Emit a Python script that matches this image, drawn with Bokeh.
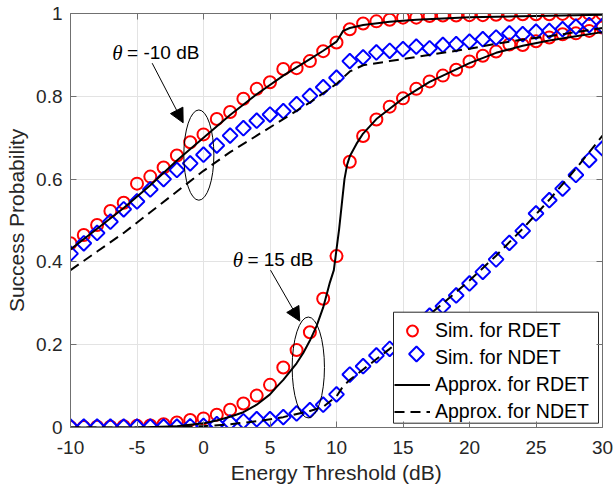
import math
from bokeh.plotting import figure
from bokeh.models import (Range1d, FixedTicker, CustomJSTickFormatter, LinearAxis,
                          Legend, LegendItem, Arrow, NormalHead)
from bokeh.core.properties import value
from bokeh.embed import file_html
from bokeh.resources import INLINE

# ---------------- data ----------------
x_sim = list(range(-10, 31))

# theta = -10 dB
sim_rdet_m10 = [0.445, 0.465, 0.489, 0.523, 0.543, 0.589, 0.606, 0.628, 0.657, 0.689,
                0.708, 0.745, 0.762, 0.794, 0.818, 0.834, 0.866, 0.868, 0.885, 0.909,
                0.930, 0.962, 0.976, 0.981, 0.985, 0.990, 0.990, 0.994, 0.995, 0.995,
                0.996, 0.996, 0.997, 0.997, 0.998, 0.998, 0.998, 0.999, 0.999, 0.999, 0.999]
sim_ndet_m10 = [0.420, 0.445, 0.470, 0.497, 0.527, 0.546, 0.575, 0.600, 0.622, 0.638,
                0.659, 0.681, 0.705, 0.723, 0.741, 0.756, 0.764, 0.781, 0.801, 0.822,
                0.845, 0.885, 0.894, 0.906, 0.910, 0.914, 0.920, 0.916, 0.924, 0.926,
                0.932, 0.938, 0.942, 0.952, 0.950, 0.956, 0.958, 0.962, 0.968, 0.972, 0.970]

# theta = 15 dB
sim_rdet_15 = [0.001, 0.001, 0.002, 0.002, 0.003, 0.004, 0.005, 0.008, 0.012, 0.018,
               0.022, 0.031, 0.043, 0.058, 0.077, 0.103, 0.145, 0.187, 0.230, 0.311,
               0.414, 0.642, 0.704, 0.744, 0.775, 0.795, 0.818, 0.836, 0.850, 0.864,
               0.884, 0.898, 0.908, 0.925, 0.924, 0.933, 0.942, 0.950, 0.952, 0.958, 0.966]
sim_ndet_15 = [0.002, 0.002, 0.002, 0.002, 0.002, 0.002, 0.002, 0.002, 0.002, 0.003,
               0.004, 0.008, 0.012, 0.015, 0.020, 0.020, 0.025, 0.034, 0.042, 0.055,
               0.080, 0.128, 0.148, 0.174, 0.190, 0.215, 0.240, 0.270, 0.293, 0.319,
               0.348, 0.376, 0.406, 0.446, 0.475, 0.517, 0.549, 0.577, 0.610, 0.646, 0.674]

# approximations
x_apx_rdet_m10 = [-10, -8, -6, -4, -2, 0, 2, 4, 6, 8, 9, 10, 10.5, 11, 12, 14, 16, 18, 20, 25, 30]
y_apx_rdet_m10 = [0.43, 0.48, 0.53, 0.585, 0.645, 0.70, 0.755, 0.805, 0.85, 0.89, 0.91, 0.932,
                  0.958, 0.965, 0.972, 0.98, 0.985, 0.988, 0.991, 0.994, 0.997]
x_apx_ndet_m10 = [-10, -8, -6, -4, -2, 0, 2, 4, 6, 8, 10, 11, 12, 14, 16, 18, 20, 22, 24, 26, 28, 30]
y_apx_ndet_m10 = [0.38, 0.425, 0.47, 0.52, 0.57, 0.62, 0.665, 0.705, 0.745, 0.785, 0.83, 0.86,
                  0.875, 0.885, 0.895, 0.905, 0.915, 0.927, 0.937, 0.945, 0.955, 0.965]
x_apx_rdet_15 = [-10, -5, -2, 0, 1, 2, 3, 4, 5, 5.5, 6, 7, 7.5, 8, 8.5, 9, 9.5, 9.8, 10, 10.2,
                 10.4, 10.6, 10.8, 11, 11.5, 12, 13, 14, 15, 16, 17, 18, 19, 20, 22, 24, 26, 28, 30]
y_apx_rdet_15 = [0.0, 0.0, 0.003, 0.01, 0.017, 0.026, 0.037, 0.055, 0.08, 0.098, 0.115, 0.155,
                 0.18, 0.21, 0.245, 0.29, 0.35, 0.38, 0.43, 0.48, 0.54, 0.60, 0.635, 0.655,
                 0.685, 0.71, 0.745, 0.77, 0.795, 0.815, 0.835, 0.85, 0.865, 0.88, 0.905,
                 0.922, 0.935, 0.945, 0.955]
x_apx_ndet_15 = [-10, -5, 0, 2, 4, 6, 8, 9, 10, 10.5, 11, 12, 14, 16, 18, 20, 22, 24, 26, 28, 30]
y_apx_ndet_15 = [0.0, 0.0, 0.003, 0.008, 0.015, 0.025, 0.04, 0.05, 0.075, 0.10, 0.115, 0.14,
                 0.19, 0.245, 0.30, 0.355, 0.415, 0.48, 0.55, 0.625, 0.705]

x_ticks = [-10, -5, 0, 5, 10, 15, 20, 25, 30]
y_ticks = [0, 0.2, 0.4, 0.6, 0.8, 1]

x_label = "Energy Threshold (dB)"
y_label = "Success Probability"
legend_labels = ["Sim. for RDET", "Sim. for NDET", "Approx. for RDET", "Approx. for NDET"]

# annotations (data coordinates)
ann_theta_x = [-6.86, 2.20]
ann_rest_x = [-5.75, 3.30]
ann_y = [0.905, 0.405]
ann_rest_text = ["= -10 dB", "= 15 dB"]
ell_x = [-0.35, 7.88]
ell_y = [0.658, 0.145]
ell_w = [2.26, 2.43]
ell_h = [0.218, 0.244]
arrow_start = [(-3.86, 0.880), (5.04, 0.380)]
arrow_end = [(-1.53, 0.736), (7.24, 0.257)]

FONT = "Liberation Sans"
TICK_COLOR = "#262626"
AXIS_COLOR = "#707070"

# ---------------- layout constants ----------------
W, H = 615, 487
B_LEFT, B_RIGHT, B_TOP, B_BOTTOM = 70, 13, 13, 60
FRAME_W = W - B_LEFT - B_RIGHT
FRAME_H = H - B_TOP - B_BOTTOM
X0, X1, Y0, Y1 = -10, 30, 0, 1

# legend geometry (pixels, relative to frame bottom-left, y upwards)
LEG_X, LEG_Y = 324, 2
LEG_PAD, LEG_ROW, LEG_GW = 4, 27, 36
BOX_L, BOX_R, BOX_B, BOX_T = 323, 528, 4.3, 115.3


def px2x(px):
    return X0 + px * (X1 - X0) / FRAME_W


def px2y(py):
    return Y0 + py * (Y1 - Y0) / FRAME_H


# ---------------- figure ----------------
p = figure(width=W, height=H, output_backend="svg", toolbar_location=None,
           x_range=Range1d(X0, X1), y_range=Range1d(Y0, Y1),
           min_border_left=B_LEFT, min_border_right=B_RIGHT,
           min_border_top=B_TOP, min_border_bottom=B_BOTTOM)
p.outline_line_color = None
p.background_fill_color = "white"
p.border_fill_color = "white"

xt = FixedTicker(ticks=x_ticks)
yt = FixedTicker(ticks=y_ticks)
fmt = CustomJSTickFormatter(code="return tick.toString();")
empty = CustomJSTickFormatter(code="return '';")

for ax, tk in ((p.xaxis[0], xt), (p.yaxis[0], yt)):
    ax.ticker = tk
    ax.formatter = fmt
    ax.major_tick_in = 6
    ax.major_tick_out = 0
    ax.minor_tick_line_color = None
    ax.axis_line_color = AXIS_COLOR
    ax.major_tick_line_color = AXIS_COLOR
    ax.major_label_text_font = FONT
    ax.major_label_text_font_size = "19px"
    ax.major_label_text_color = TICK_COLOR
    ax.axis_label_text_font = FONT
    ax.axis_label_text_font_size = "21px"
    ax.axis_label_text_font_style = "normal"
    ax.axis_label_text_color = TICK_COLOR

p.xaxis[0].axis_label = x_label
p.xaxis[0].major_label_standoff = 13
p.xaxis[0].axis_label_standoff = 4
p.yaxis[0].axis_label = y_label
p.yaxis[0].major_label_standoff = 8
p.yaxis[0].axis_label_standoff = 5

for side, tk in (("right", yt), ("above", xt)):
    ax = LinearAxis(ticker=tk, formatter=empty, major_tick_in=6, major_tick_out=0,
                    minor_tick_line_color=None, axis_line_color=AXIS_COLOR,
                    major_tick_line_color=AXIS_COLOR, major_label_standoff=0,
                    major_label_text_font_size="1px")
    p.add_layout(ax, side)

p.xgrid.ticker = xt
p.ygrid.ticker = yt
p.xgrid.grid_line_color = "#e3e3e3"
p.ygrid.grid_line_color = "#e3e3e3"

circ = dict(marker="circle", size=12, fill_color=None, line_color="#ff0000", line_width=2)
diam = dict(marker="square", angle=math.pi / 4, size=10.5, fill_color=None,
            line_color="#0000ff", line_width=2)

# markers
c1 = p.scatter(x_sim, sim_rdet_m10, **circ)
p.scatter(x_sim, sim_rdet_15, **circ)
p.scatter(x_sim, sim_ndet_m10, **diam)
p.scatter(x_sim, sim_ndet_15, **diam)

# lines
l1 = p.line(x_apx_rdet_m10, y_apx_rdet_m10, line_color="black", line_width=2)
p.line(x_apx_rdet_15, y_apx_rdet_15, line_color="black", line_width=2)
l2 = p.line(x_apx_ndet_m10, y_apx_ndet_m10, line_color="black", line_width=2, line_dash="10 6")
p.line(x_apx_ndet_15, y_apx_ndet_15, line_color="black", line_width=2, line_dash="10 6")

# annotations
p.ellipse(x=ell_x, y=ell_y, width=ell_w, height=ell_h, fill_color=None,
          line_color="black", line_width=1)
for (xs, ys), (xe, ye) in zip(arrow_start, arrow_end):
    p.add_layout(Arrow(end=NormalHead(size=14, fill_color="black", line_color="black"),
                       x_start=xs, y_start=ys, x_end=xe, y_end=ye,
                       line_color="black", line_width=1))
p.text(x=ann_theta_x, y=ann_y, text=["θ", "θ"], text_font=value("Liberation Serif"),
       text_font_style="italic", text_font_size=value("21px"), text_baseline="middle",
       text_align="left", text_color="black")
p.text(x=ann_rest_x, y=ann_y, text=ann_rest_text, text_font=value(FONT),
       text_font_size=value("19px"), text_baseline="middle", text_align="left",
       text_color="black")

# legend box (white, bordered) drawn over the data; the Legend itself is transparent
p.quad(left=[px2x(BOX_L)], right=[px2x(BOX_R)], bottom=[px2y(BOX_B)], top=[px2y(BOX_T)],
       fill_color="white", line_color="#262626", line_width=1)
# rotated diamond in the legend slot (Bokeh legends draw markers unrotated)
leg_h = 2 * LEG_PAD + 4 * LEG_ROW
gx_px = LEG_X + LEG_PAD + LEG_GW / 2
gy_px = LEG_Y + leg_h - LEG_PAD - 1.5 * LEG_ROW
p.scatter([px2x(gx_px)], [px2y(gy_px)], **diam)

proxy = p.scatter([float("nan")], [float("nan")], marker="square", size=10,
                  fill_color=None, line_color="#0000ff", line_alpha=0)
legend = Legend(items=[LegendItem(label=legend_labels[0], renderers=[c1]),
                       LegendItem(label=legend_labels[1], renderers=[proxy]),
                       LegendItem(label=legend_labels[2], renderers=[l1]),
                       LegendItem(label=legend_labels[3], renderers=[l2])],
                location=(LEG_X, LEG_Y), margin=0, padding=LEG_PAD, spacing=0,
                glyph_width=LEG_GW, glyph_height=LEG_ROW, label_height=LEG_ROW,
                label_standoff=5,
                label_text_font=FONT, label_text_font_size="19.5px", label_text_color="black",
                border_line_color=None, background_fill_alpha=0.0)
p.add_layout(legend)

open("out.html", "w").write(file_html(p, INLINE))
